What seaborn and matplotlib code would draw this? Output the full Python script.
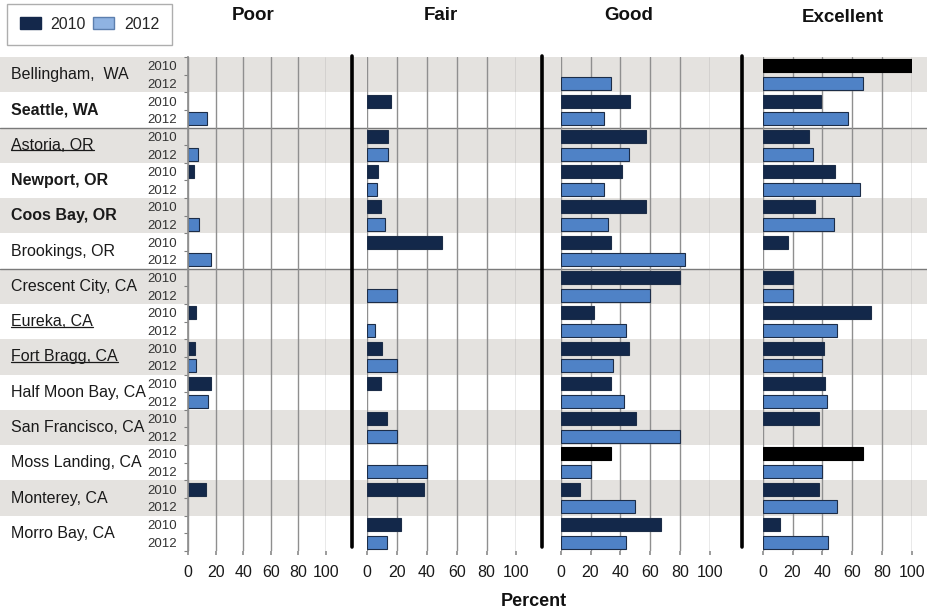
import numpy as np
import pandas as pd
import matplotlib
matplotlib.use("Agg")
import matplotlib.pyplot as plt
import seaborn as sns
from matplotlib.patches import Patch
from matplotlib.lines import Line2D

sns.set_theme(style="white")
plt.rcParams['font.family'] = ['Liberation Sans', 'DejaVu Sans']

# ---- data (percent of respondents) ----
nan = np.nan
cities = ["Bellingham,  WA", "Seattle, WA", "Astoria, OR", "Newport, OR",
          "Coos Bay, OR", "Brookings, OR", "Crescent City, CA", "Eureka, CA",
          "Fort Bragg, CA", "Half Moon Bay, CA", "San Francisco, CA",
          "Moss Landing, CA", "Monterey, CA", "Morro Bay, CA"]
bold_cities = ["Seattle, WA", "Newport, OR", "Coos Bay, OR"]
underlined_cities = ["Astoria, OR", "Eureka, CA", "Fort Bragg, CA"]
years = ["2010", "2012"]
ratings = ["Poor", "Fair", "Good", "Excellent"]

poor_2010 = [nan, nan, nan, 4, nan, nan, nan, 6, 5, 17, nan, nan, 13, nan]
poor_2012 = [nan, 14, 7, nan, 8, 17, nan, nan, 5.5, 14.5, nan, nan, nan, nan]
fair_2010 = [nan, 16, 14, 7.5, 9.5, 50, nan, nan, 10, 9, 13, nan, 38, 22.5]
fair_2012 = [nan, nan, 14, 6.5, 12, nan, 20, 5.5, 20, nan, 20, 40, nan, 13]
good_2010 = [nan, 46.5, 57, 41, 57, 33.5, 80, 22, 45.5, 33.5, 50.5, 33.5, 13, 67]
good_2012 = [33.5, 29, 46, 29, 32, 83, 60, 44, 35, 42.5, 80, 20, 50, 43.5]
exc_2010 = [100, 39, 31, 48.5, 35, 17, 20, 72.5, 41, 42, 38, 67, 38, 11.5]
exc_2012 = [67, 57, 33.5, 65, 48, nan, 20, 50, 40, 43, nan, 40, 50, 44]

# bars drawn in plain black in the original
black_bars = [("Excellent", "Bellingham,  WA", "2010"),
              ("Good", "Moss Landing, CA", "2010"),
              ("Excellent", "Moss Landing, CA", "2010")]

series = {("Poor", "2010"): poor_2010, ("Poor", "2012"): poor_2012,
          ("Fair", "2010"): fair_2010, ("Fair", "2012"): fair_2012,
          ("Good", "2010"): good_2010, ("Good", "2012"): good_2012,
          ("Excellent", "2010"): exc_2010, ("Excellent", "2012"): exc_2012}
rows = []
for (r, y), vals in series.items():
    for c, v in zip(cities, vals):
        rows.append({"rating": r, "year": y, "city": c, "pct": v})
df = pd.DataFrame(rows)

# ---- layout (figure pixels 927x615) ----
W, H = 927, 615
fig = plt.figure(figsize=(W / 100, H / 100), dpi=100)
top_px, bot_px = 57, 551
def fy(px):
    return 1 - px / H

ax_bg = fig.add_axes([0, fy(bot_px), 1, (bot_px - top_px) / H])
ax_bg.set_xlim(0, 1)
ax_bg.set_ylim(len(cities) - 0.5, -0.5)
ax_bg.axis("off")
for k in range(0, len(cities), 2):
    ax_bg.axhspan(k - 0.5, k + 0.5, color="#e4e2df", lw=0, zorder=0)
for b in (1.5, 5.5):
    ax_bg.axhline(b, color="#7a7a7a", lw=1.0, zorder=1)

city_texts = []
for k, c in enumerate(cities):
    t = ax_bg.text(11 / W, k, c, ha="left", va="center", fontsize=11.5,
                   fontweight="bold" if c in bold_cities else "normal",
                   color="#1a1a1a")
    city_texts.append(t)

panel_px = {"Poor": (188, 138), "Fair": (367.3, 149), "Good": (560.7, 149.3),
            "Excellent": (762.7, 149)}
palette = {"2010": "#13284a", "2012": "#4f82c6"}

for r in ratings:
    x0, w = panel_px[r]
    ax = fig.add_axes([x0 / W, fy(bot_px), w / W, (bot_px - top_px) / H])
    ax.set_facecolor("none")
    sub = df[df["rating"] == r].dropna()
    sns.barplot(data=sub, x="pct", y="city", hue="year", order=cities,
                hue_order=years, orient="h", width=1.0, gap=0.26,
                palette=palette, saturation=1, edgecolor="#1c2d48",
                linewidth=0.8, errorbar=None, legend=False, ax=ax)
    for rr, c, y in black_bars:
        if rr != r:
            continue
        target = cities.index(c) + (-0.25 if y == "2010" else 0.25)
        for p in ax.patches:
            if abs(p.get_y() + p.get_height() / 2 - target) < 0.05:
                p.set_facecolor("black")
                p.set_edgecolor("black")
    ax.set_xlim(0, 100)
    ax.set_ylim(len(cities) - 0.5, -0.5)
    ax.set_xticks(range(0, 101, 20))
    ax.grid(axis="x", color="#8f8f8f", lw=1.0)
    ax.grid(axis="y", visible=False)
    ax.set_axisbelow(True)
    ax.set_xlabel("")
    ax.set_ylabel("")
    for s in ax.spines.values():
        s.set_visible(False)
    ax.tick_params(axis="x", bottom=True, length=3, color="#8f8f8f",
                   labelsize=11.5, pad=7, labelcolor="#1a1a1a")
    if r == "Poor":
        pos = [k + o for k in range(len(cities)) for o in (-0.25, 0.25)]
        ax.set_yticks(pos, labels=years * len(cities))
        ax.set_yticks(np.arange(-0.5, len(cities), 0.5), minor=True)
        ax.tick_params(axis="y", which="major", length=0, pad=8,
                       labelsize=9.5, labelcolor="#333333")
        ax.tick_params(axis="y", which="minor", left=True, length=3,
                       color="#808080", width=0.8)
        ax.spines["left"].set_visible(True)
        ax.spines["left"].set_color("#8f8f8f")
    else:
        ax.set_yticks([])

# thick separators between panels
for xs in (352.3, 542.3, 742.3):
    fig.add_artist(Line2D([xs / W, xs / W], [fy(547), fy(56)],
                          transform=fig.transFigure, color="black", lw=2.6))

# column titles
title_pos = {"Poor": (253, 15), "Fair": (441, 15), "Good": (629, 15),
             "Excellent": (843, 18)}
for r, (tx, ty) in title_pos.items():
    fig.text(tx / W, fy(ty), r, ha="center", va="center", fontsize=13.5,
             fontweight="bold", color="#111111")

fig.text(534 / W, fy(601), "Percent", ha="center", va="center", fontsize=13,
         fontweight="bold", color="#111111")

handles = [Patch(facecolor="#14284b", edgecolor="#14284b"),
           Patch(facecolor="#8fb3e2", edgecolor="#5c7fae")]
fig.legend(handles=handles, labels=years, loc="upper left",
           bbox_to_anchor=(7 / W, fy(4)), ncol=2, frameon=True, fancybox=False,
           edgecolor="#9a9a9a", fontsize=11.5, handlelength=1.3,
           handleheight=0.8, handletextpad=0.6, columnspacing=0.5,
           borderpad=0.8, borderaxespad=0)

# underline some of the city names
fig.canvas.draw()
renderer = fig.canvas.get_renderer()
for t in city_texts:
    if t.get_text() in underlined_cities:
        bb = t.get_window_extent(renderer)
        yl = (bb.y0 + 2.5) / fig.bbox.height
        fig.add_artist(Line2D([bb.x0 / fig.bbox.width, bb.x1 / fig.bbox.width],
                              [yl, yl], transform=fig.transFigure,
                              color="#1a1a1a", lw=0.9))

fig.savefig("out.png", dpi=100)
